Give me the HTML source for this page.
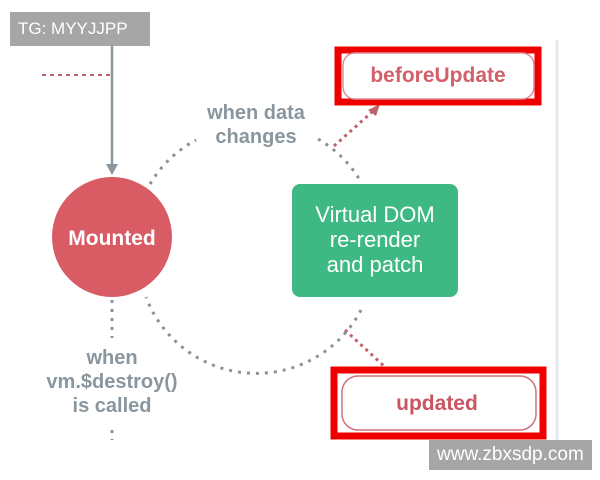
<!DOCTYPE html>
<html><head><meta charset="utf-8"><style>
body{margin:0;width:600px;height:480px;background:#fff;overflow:hidden;position:relative;font-family:"Liberation Sans",sans-serif}
.wm{position:absolute;background:#a6a6a6;color:#fff;font-size:17px;line-height:34px;padding:0 8px}
</style></head><body>
<svg width="600" height="480" style="position:absolute;left:0;top:0">
<line x1="557" y1="40" x2="557" y2="440" stroke="#e6ebf2" stroke-width="3"/>
<line x1="42" y1="75" x2="110" y2="75" stroke="#c0606a" stroke-width="2" stroke-dasharray="4,4"/>
<line x1="112" y1="40" x2="112" y2="166" stroke="#8a969e" stroke-width="2.5"/>
<polygon points="106,164 118,164 112,175" fill="#8a969e"/>
<g fill="none" stroke="#8a9399" stroke-width="3" stroke-dasharray="3,6">
<path d="M150,184 A118,118 0 0 1 196,140"/>
<path d="M318,139 A118,118 0 0 1 361,182"/>
<path d="M361,310 A118,118 0 0 1 146,297"/>
<line x1="112" y1="300" x2="112" y2="338"/>
<line x1="112" y1="430" x2="112" y2="440"/>
</g>
<g stroke="#c0606a" stroke-width="3" stroke-dasharray="3,4" fill="none">
<line x1="334" y1="146" x2="372" y2="112"/>
<line x1="345" y1="330" x2="385" y2="367"/>
</g>
<polygon points="368,110 380,104 376,116" fill="#c0606a"/>
<circle cx="112" cy="237" r="60" fill="#d95b64"/>
<text x="112" y="245" text-anchor="middle" fill="#fff" font-weight="bold" font-size="21">Mounted</text>
<rect x="292" y="184" width="166" height="113" rx="8" fill="#3fb983"/>
<g fill="#fff" font-size="22" text-anchor="middle">
<text x="375" y="222">Virtual DOM</text>
<text x="375" y="247">re-render</text>
<text x="375" y="272">and patch</text>
</g>
<g fill="#8a969e" font-size="20" font-weight="bold" text-anchor="middle">
<text x="256" y="119">when data</text>
<text x="256" y="143">changes</text>
<text x="112" y="364">when</text>
<text x="112" y="388">vm.$destroy()</text>
<text x="112" y="412">is called</text>
</g>
<rect x="338" y="50" width="200" height="52" fill="none" stroke="#ee0000" stroke-width="7"/>
<rect x="343" y="53" width="191" height="46" rx="12" fill="#fff" stroke="#dd8f95" stroke-width="1.5"/>
<text x="438" y="82" text-anchor="middle" fill="#d2606a" font-weight="bold" font-size="21">beforeUpdate</text>
<rect x="334" y="370" width="209" height="66" fill="none" stroke="#ee0000" stroke-width="7"/>
<rect x="342" y="376" width="194" height="54" rx="16" fill="#fff" stroke="#d0707a" stroke-width="1.5"/>
<text x="437" y="410" text-anchor="middle" fill="#c95560" font-weight="bold" font-size="21">updated</text>
</svg>
<div class="wm" style="left:10px;top:12px;width:124px">TG: MYYJJPP</div>
<div class="wm" style="left:429px;top:440px;width:147px;height:30px;line-height:30px;font-size:19px">www.zbxsdp.com</div>
</body></html>
